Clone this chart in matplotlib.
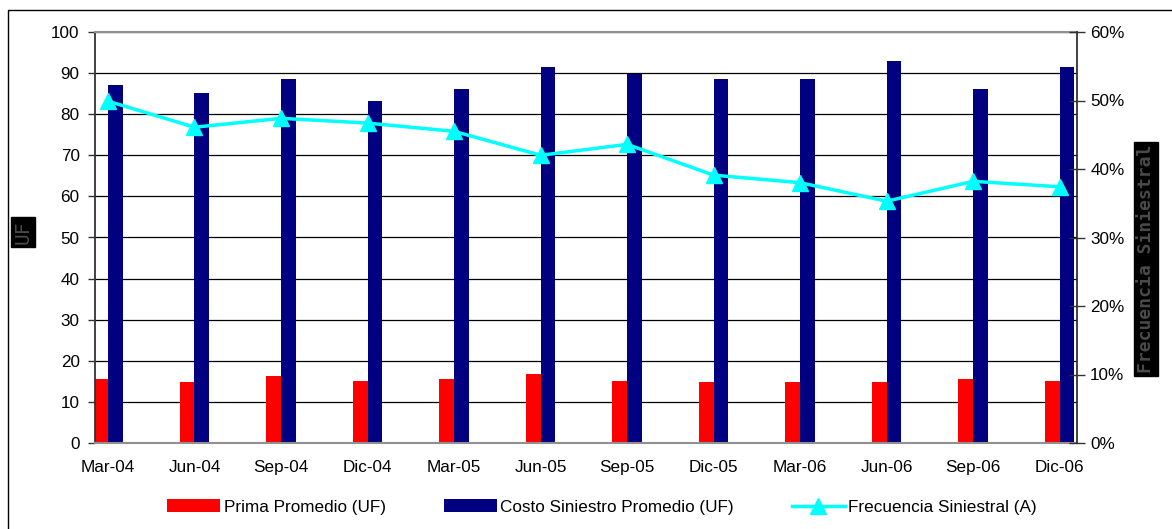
import matplotlib
matplotlib.use("Agg")
import matplotlib.pyplot as plt
from matplotlib.patches import Rectangle
from matplotlib.lines import Line2D
from matplotlib.ticker import FuncFormatter
import numpy as np

plt.rcParams['font.family'] = ['Liberation Sans', 'DejaVu Sans']

periods = ["Mar-04", "Jun-04", "Sep-04", "Dic-04", "Mar-05", "Jun-05",
           "Sep-05", "Dic-05", "Mar-06", "Jun-06", "Sep-06", "Dic-06"]
prima_promedio = [15.6, 14.8, 16.3, 15.1, 15.6, 16.8, 15.1, 14.8, 14.8, 14.8, 15.6, 15.1]
costo_siniestro = [87.1, 85.2, 88.6, 83.2, 86.1, 91.5, 89.8, 88.6, 88.6, 92.9, 86.1, 91.5]
frecuencia = [49.9, 46.1, 47.4, 46.7, 45.5, 42.0, 43.6, 39.1, 38.0, 35.3, 38.2, 37.4]

RED = "#FF0000"
NAVY = "#000080"
CYAN = "#00FFFF"
FS = 12.3

W, H = 1172, 529
fig = plt.figure(figsize=(W / 100, H / 100), dpi=100)

# outer chart frame (runs off the right and bottom edges)
fig.add_artist(Rectangle((8 / W, -0.1), 1.2, (H - 10) / H + 0.1, transform=fig.transFigure,
                         fill=False, edgecolor="black", lw=1.0))

ax = fig.add_axes([95 / W, (H - 443) / H, (1077 - 95) / W, (443 - 32) / H])
x = np.arange(len(periods))
bw = 0.17
ax.bar(x - bw / 2, prima_promedio, width=bw, color=RED, zorder=2)
ax.bar(x + bw / 2, costo_siniestro, width=bw, color=NAVY, zorder=2)

ax.set_xlim(-0.15, 11.2)
ax.set_ylim(0, 100)
ax.set_yticks(np.arange(0, 101, 10))
ax.yaxis.grid(True, color="black", lw=0.9, zorder=0)
ax.set_axisbelow(True)
ax.set_xticks(x)
ax.set_xticklabels(periods)
ax.tick_params(axis="x", length=0, pad=12, labelsize=FS)
ax.tick_params(axis="y", length=5, width=1, pad=6, labelsize=FS, color="#333333")

for side in ("top", "bottom"):
    ax.spines[side].set_color("#909090")
    ax.spines[side].set_linewidth(1.5)
ax.spines["left"].set_color("#333333")
ax.spines["left"].set_linewidth(1.3)
ax.spines["right"].set_visible(False)

ax2 = ax.twinx()
ax2.plot(x, frecuencia, color=CYAN, lw=2.5, marker="^", markersize=11,
         markerfacecolor=CYAN, markeredgecolor=CYAN, zorder=5)
ax2.set_ylim(0, 60)
ax2.set_yticks(np.arange(0, 61, 10))
ax2.yaxis.set_major_formatter(FuncFormatter(lambda v, p: f"{int(v)}%"))
ax2.tick_params(axis="y", direction="inout", length=11, width=1, pad=4,
                labelsize=FS, color="#333333")
for side in ("top", "bottom", "left"):
    ax2.spines[side].set_visible(False)
ax2.spines["right"].set_color("#333333")
ax2.spines["right"].set_linewidth(1.3)

# axis titles in dark boxes
fig.text(23 / W, 1 - 232 / H, "UF", rotation=90, ha="center", va="center",
         family="DejaVu Sans Mono", fontsize=14, color="#4a4a4a",
         bbox=dict(boxstyle="square,pad=0.15", facecolor="black", edgecolor="black"))
fig.text(1146 / W, 1 - 259 / H, "Frecuencia Siniestral", rotation=90, ha="center", va="center",
         family="DejaVu Sans Mono", fontsize=13, fontweight="bold", color="#4a4a4a",
         bbox=dict(boxstyle="square,pad=0.15", facecolor="black", edgecolor="black"))

handles = [
    Rectangle((0, 0), 1, 1, facecolor=RED, edgecolor="none"),
    Rectangle((0, 0), 1, 1, facecolor=NAVY, edgecolor="none"),
    Line2D([], [], color=CYAN, lw=2.5, marker="^", markersize=11,
           markerfacecolor=CYAN, markeredgecolor=CYAN),
]
labels = ["Prima Promedio (UF)", "Costo Siniestro Promedio (UF)", "Frecuencia Siniestral (A)"]
fig.legend(handles, labels, loc="center", bbox_to_anchor=(602 / W, 1 - 507 / H), ncol=3,
           frameon=False, fontsize=FS, handlelength=3.1, handleheight=0.8,
           handletextpad=0.2, columnspacing=3.4, borderaxespad=0)

fig.savefig("out.png", dpi=100)
